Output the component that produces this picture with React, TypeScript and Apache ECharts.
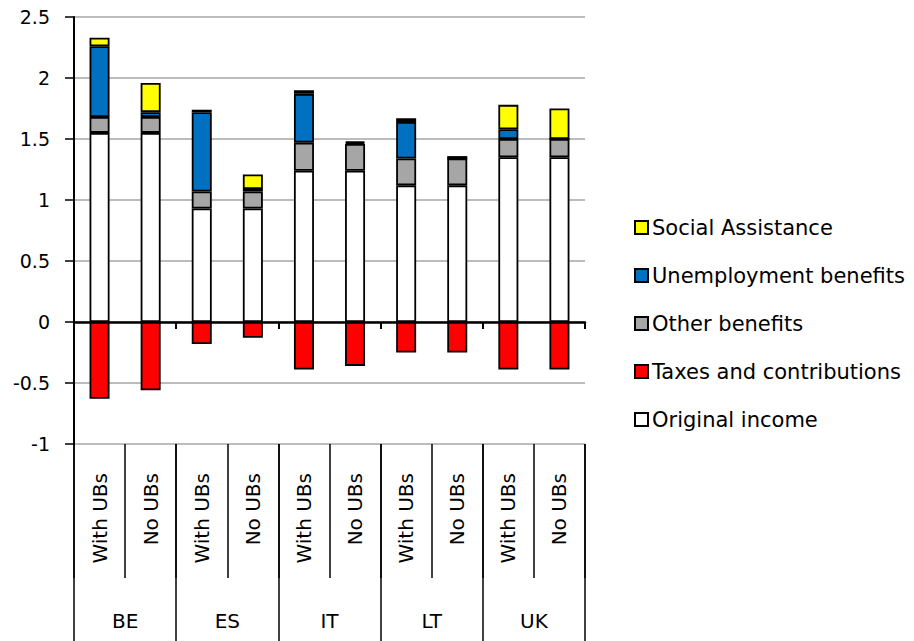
import React, { useEffect, useRef } from "react";
import * as echarts from "echarts";

const subCategories = [
  "With UBs", "No UBs", "With UBs", "No UBs", "With UBs",
  "No UBs", "With UBs", "No UBs", "With UBs", "No UBs",
];
const countries = ["BE", "ES", "IT", "LT", "UK"];

const originalIncome = [1.55, 1.55, 0.93, 0.93, 1.24, 1.24, 1.12, 1.12, 1.35, 1.35];
const otherBenefits = [0.13, 0.13, 0.14, 0.14, 0.23, 0.22, 0.22, 0.22, 0.15, 0.15];
const unemploymentBenefits = [0.58, 0.04, 0.65, 0.02, 0.4, 0.01, 0.3, 0.0, 0.08, 0.0];
const socialAssistance = [0.07, 0.24, 0.02, 0.12, 0.03, 0.01, 0.03, 0.02, 0.2, 0.25];
const taxesContributions = [-0.63, -0.56, -0.18, -0.13, -0.39, -0.36, -0.25, -0.25, -0.39, -0.39];

const FONT = "DejaVu Sans";

export default function App() {
  const ref = useRef<HTMLDivElement>(null);
  useEffect(() => {
    if (!ref.current) return;
    const chart = echarts.init(ref.current, null, { renderer: "svg" });
    const border = { borderColor: "#000", borderWidth: 1.8 };
    const mk = (name: string, data: number[], color: string, stack: string) => ({
      name,
      type: "bar",
      stack,
      data,
      barWidth: 20,
      xAxisIndex: 0,
      itemStyle: { color, ...border },
      emphasis: { disabled: true },
    });
    chart.setOption({
      animation: false,
      backgroundColor: "#fff",
      textStyle: { fontFamily: FONT, color: "#000" },
      grid: { left: 74, right: 329, top: 17, bottom: 197, containLabel: false },
      legend: {
        orient: "vertical",
        left: 629,
        top: 212,
        itemWidth: 13,
        itemHeight: 13,
        itemGap: 27,
        icon: "rect",
        textStyle: { fontFamily: FONT, fontSize: 21, color: "#000", padding: [0, 0, 0, -1] },
        data: [
          "Social Assistance",
          "Unemployment benefits",
          "Other benefits",
          "Taxes and contributions",
          "Original income",
        ],
      },
      xAxis: [
        {
          type: "category",
          data: subCategories,
          position: "bottom",
          axisLine: { onZero: true, lineStyle: { color: "#000", width: 2.5 } },
          axisTick: { show: true, length: 7, lineStyle: { color: "#000", width: 2 } },
          axisLabel: { show: false },
          splitLine: { show: false },
        },
        {
          type: "category",
          data: subCategories,
          position: "bottom",
          axisLine: { show: false, onZero: false },
          axisTick: { show: true, length: 134, lineStyle: { color: "#000", width: 1.5 } },
          axisLabel: {
            show: true,
            rotate: 90,
            margin: 29,
            fontFamily: FONT,
            fontSize: 20,
            color: "#000",
          },
          splitLine: { show: false },
        },
        {
          type: "category",
          data: countries,
          position: "bottom",
          axisLine: { show: false, onZero: false },
          axisTick: { show: true, length: 200, lineStyle: { color: "#000", width: 1.5 } },
          axisLabel: {
            show: true,
            margin: 167,
            fontFamily: FONT,
            fontSize: 20,
            color: "#000",
          },
          splitLine: { show: false },
        },
      ],
      yAxis: {
        type: "value",
        min: -1,
        max: 2.5,
        interval: 0.5,
        axisLine: { show: true, lineStyle: { color: "#000", width: 2 } },
        axisTick: { show: true, length: 9, lineStyle: { color: "#000", width: 1.5 } },
        axisLabel: { margin: 24, fontFamily: FONT, fontSize: 19, color: "#000" },
        splitLine: { show: true, lineStyle: { color: "#a6a6a6", width: 1.5 } },
      },
      series: [
        mk("Original income", originalIncome, "#ffffff", "total"),
        mk("Other benefits", otherBenefits, "#a6a6a6", "total"),
        mk("Unemployment benefits", unemploymentBenefits, "#0070c0", "total"),
        mk("Social Assistance", socialAssistance, "#ffff00", "total"),
        mk("Taxes and contributions", taxesContributions, "#ff0000", "total"),
      ],
    });
    return () => chart.dispose();
  }, []);
  return (
    <div
      ref={ref}
      style={{ position: "absolute", left: 0, top: 0, width: 914, height: 641 }}
    />
  );
}
